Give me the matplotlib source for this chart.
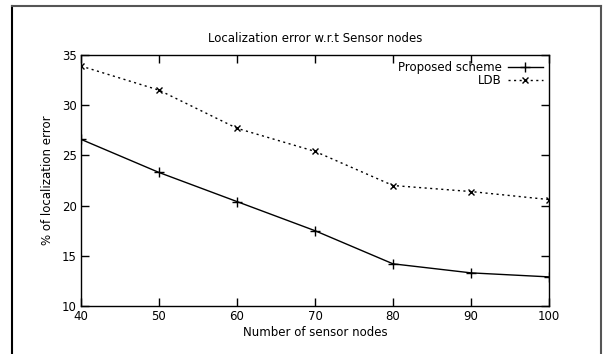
import matplotlib
matplotlib.use("Agg")
import matplotlib.pyplot as plt
from matplotlib.lines import Line2D

# data
nodes = [40, 50, 60, 70, 80, 90, 100]
proposed = [26.6, 23.3, 20.4, 17.5, 14.2, 13.3, 12.9]
ldb = [33.9, 31.5, 27.7, 25.4, 22.0, 21.4, 20.6]

x_ticks = [40, 50, 60, 70, 80, 90, 100]
y_ticks = [10, 15, 20, 25, 30, 35]

W, H = 603, 354
fig = plt.figure(figsize=(W / 100, H / 100), dpi=100)

# axes box in pixel terms: left 81, right 549, top 55, bottom 306
ax = fig.add_axes([81 / W, 1 - 306 / H, (549 - 81) / W, (306 - 55) / H])

dotted = (0, (1.5, 2.5))
ax.plot(nodes, proposed, color='black', linestyle='-', linewidth=1.0,
        marker='+', markersize=7, markeredgewidth=1.0, label='Proposed scheme')
ax.plot(nodes, ldb, color='black', linestyle=dotted, linewidth=1.0,
        marker='x', markersize=5, markeredgewidth=1.0, label='LDB')

ax.set_xlim(40, 100)
ax.set_ylim(10, 35)
ax.set_xticks(x_ticks)
ax.set_yticks(y_ticks)
ax.tick_params(direction='in', length=6, width=1, labelsize=8.5,
               top=True, right=True, pad=3)
for s in ax.spines.values():
    s.set_linewidth(1.0)

ax.set_title('Localization error w.r.t Sensor nodes', fontsize=8.5, pad=9)
ax.set_xlabel('Number of sensor nodes', fontsize=8.5, labelpad=2)
ax.set_ylabel('% of localization error', fontsize=8.5, labelpad=6)

# gnuplot style legend: text right aligned, sample on the right
handles = [Line2D([], [], color='black', linestyle='-', linewidth=1.0,
                  marker='+', markersize=7, markeredgewidth=1.0),
           Line2D([], [], color='black', linestyle=dotted, linewidth=1.0,
                  marker='x', markersize=5, markeredgewidth=1.0)]
leg = ax.legend(handles, ['Proposed scheme', 'LDB'], loc='upper right',
                frameon=False, fontsize=8.5, markerfirst=False,
                handlelength=3.0, handletextpad=0.5, labelspacing=0.0,
                borderaxespad=0.2, borderpad=0.3, alignment='right')
for t in leg.get_texts():
    t.set_ha('right')

# outer frame of the original screenshot
frame_col = '#555555'
fig.add_artist(Line2D([12 / W, 12 / W], [0, 1 - 6 / H], color='black',
                      linewidth=1.5, transform=fig.transFigure))
fig.add_artist(Line2D([12 / W, 601 / W], [1 - 6 / H, 1 - 6 / H], color=frame_col,
                      linewidth=1.5, transform=fig.transFigure))
fig.add_artist(Line2D([601 / W, 601 / W], [0, 1 - 6 / H], color=frame_col,
                      linewidth=1.5, transform=fig.transFigure))

fig.savefig('out.png', dpi=100)
